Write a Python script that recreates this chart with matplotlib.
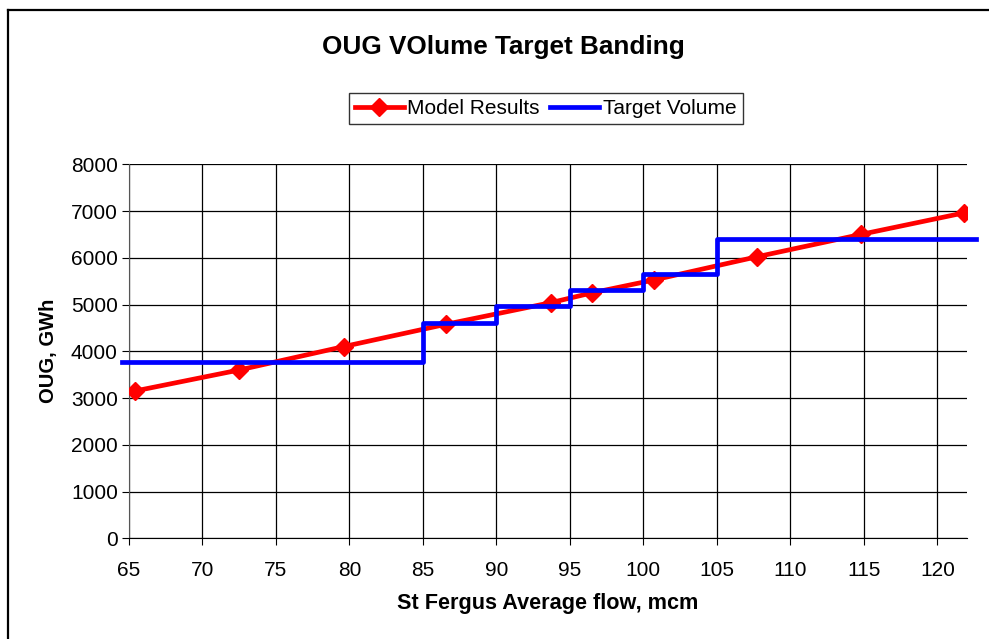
import numpy as np
import matplotlib.pyplot as plt
from matplotlib.lines import Line2D

plt.rcParams['font.family'] = ['Liberation Sans', 'DejaVu Sans']

# Model results (flow, OUG)
flow = [65.4, 72.5, 79.6, 86.6, 93.7, 96.5, 100.7, 107.7, 114.8, 121.8]
oug = [3150, 3600, 4100, 4580, 5040, 5250, 5525, 6020, 6500, 6960]

# Target volume bands
band_edges = [64.5, 85, 90, 95, 100, 105, 122.6]
band_levels = [3775, 4610, 4970, 5310, 5660, 6400]

xticks = list(range(65, 125, 5))
yticks = list(range(0, 9000, 1000))

fig = plt.figure(figsize=(9.89, 6.39), dpi=100)
ax = fig.add_axes([0.1304, 0.1576, 0.8471, 0.5853])

ax.plot(flow, oug, color='red', lw=3.4, marker='D', markersize=9,
        label='Model Results', zorder=3)
ax.plot(band_edges, band_levels + [band_levels[-1]], color='blue', lw=3.4,
        drawstyle='steps-post', label='Target Volume', clip_on=False, zorder=4)

ax.set_xlim(65, 122)
ax.set_ylim(0, 8000)
ax.set_xticks(xticks)
ax.set_yticks(yticks)
ax.grid(True, color='black', lw=0.9)
ax.set_axisbelow(True)
for s in ['top', 'right']:
    ax.spines[s].set_visible(False)
ax.spines['left'].set_color('#555555')
ax.spines['bottom'].set_color('black')
ax.tick_params(labelsize=15, length=5, direction='out', pad=3)
ax.tick_params(axis='x', pad=11)

ax.set_xlabel('St Fergus Average flow, mcm', fontsize=15.6, fontweight='bold', labelpad=10)
ax.set_ylabel('OUG, GWh', fontsize=14.5, fontweight='bold', labelpad=9)

fig.text(0.509, 0.926, 'OUG VOlume Target Banding', fontsize=18.8,
         fontweight='bold', ha='center', va='center')

leg = fig.legend(loc='center', bbox_to_anchor=(0.5516, 0.830), ncol=2,
                 fontsize=15, frameon=True, fancybox=False, handlelength=2.35,
                 handletextpad=0.18, columnspacing=0.48, borderpad=0.3)
leg.get_frame().set_edgecolor('black')
leg.get_frame().set_linewidth(1.0)

# chart area border
fig.add_artist(Line2D([8 / 989, 8 / 989], [0, 1 - 10 / 639], color='black', lw=1.6))
fig.add_artist(Line2D([8 / 989, 1], [1 - 10 / 639, 1 - 10 / 639], color='black', lw=1.6))

fig.savefig('out.png', dpi=100)
